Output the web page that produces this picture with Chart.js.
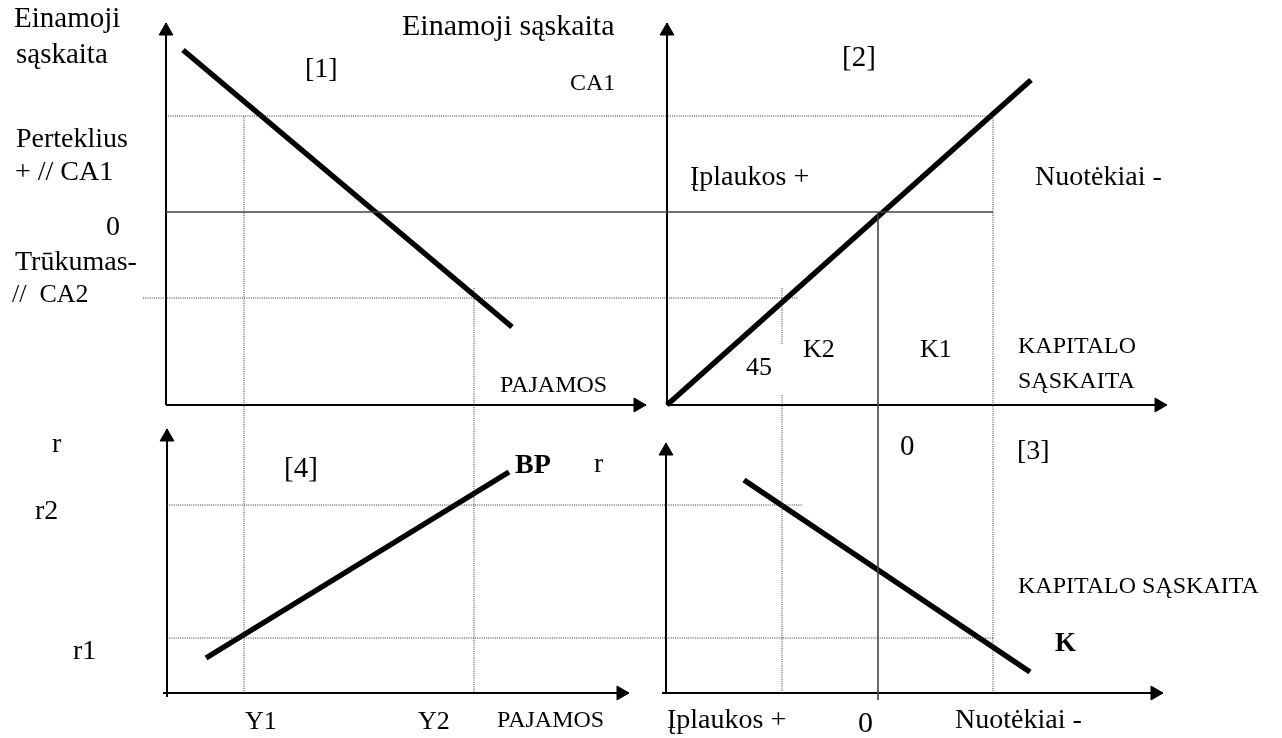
<!DOCTYPE html>
<html>
<head>
<meta charset="utf-8">
<script src="https://cdn.jsdelivr.net/npm/chart.js@4"></script>
<style>
  html, body { margin: 0; padding: 0; background: #fff; }
  #wrap { width: 1282px; height: 738px; }
</style>
</head>
<body>
<div id="wrap"><canvas id="c" width="1282" height="738"></canvas></div>
<script>
// ---- Diagram data (diagram units: x to the right, y downward) ----
// Curves
const curveCA   = [[183, 50], [512, 327]];    // panel [1] current account vs income
const curve45   = [[667, 405], [1031, 80]];   // panel [2] 45 degree line
const curveK    = [[744, 480], [1030, 672]];  // panel [3] capital account K
const curveBP   = [[206, 658], [509, 472]];   // panel [4] BP curve

// Axes (origin -> arrow tip)
const axis1Y = [[166, 405], [166, 23]];
const axis1X = [[166, 405], [646, 405]];
const axis2Y = [[667, 405], [667, 23]];
const axis2X = [[667, 405], [1167, 405]];
const axis3Y = [[666, 693], [666, 443]];
const axis3X = [[662, 693], [1163, 693]];
const axis4Y = [[167, 697], [167, 429]];
const axis4X = [[163, 693], [629, 693]];

// Reference levels
const zeroLineCA  = [[166, 212], [993, 212]];
const zeroLineK   = [[878, 212], [878, 700]];
const levelCA1    = [[166, 116], [993, 116]];
const levelCA2    = [[143, 298], [798, 298]];
const levelR2     = [[167, 505], [802, 505]];
const levelR1     = [[167, 638], [993, 638]];
const incomeY1    = [[244, 116], [244, 693]];
const incomeY2    = [[474, 288], [474, 693]];
const capK2a      = [[782, 288], [782, 345]];
const capK2b      = [[782, 395], [782, 693]];
const capK1       = [[993, 116], [993, 693]];

// Text labels
const labelTexts = [
  "Einamoji", "sąskaita", "[1]", "Einamoji sąskaita", "CA1", "[2]",
  "Perteklius", "+ // CA1", "0", "Trūkumas-", "//  CA2",
  "Įplaukos +", "Nuotėkiai -", "K2", "K1", "45", "KAPITALO", "SĄSKAITA", "PAJAMOS",
  "r", "[4]", "BP", "r", "r2", "r1", "0", "[3]", "KAPITALO SĄSKAITA", "K",
  "Y1", "Y2", "PAJAMOS", "Įplaukos +", "0", "Nuotėkiai -"
];
const labelAnchors = [
  [14, 27], [16, 63], [305, 77], [402, 35], [570, 90], [842, 66],
  [16, 147], [15, 180], [106, 235], [15, 270], [12, 302],
  [690, 185], [1035, 185], [803, 357], [920, 357], [746, 375], [1018, 353], [1018, 388], [500, 392],
  [52, 452], [284, 477], [515, 473], [594, 472], [35, 519], [73, 659], [900, 455], [1017, 459], [1018, 593], [1055, 651],
  [245, 729], [418, 729], [497, 727], [667, 728], [858, 732], [955, 728]
];
const labelStyles = [
  "29px", "29px", "28px", "30px", "24px", "29px",
  "28px", "28px", "28px", "28px", "26px",
  "28px", "28px", "26px", "26px", "26px", "24px", "24px", "24px",
  "28px", "29px", "bold 28px", "28px", "28px", "28px", "29px", "28px", "24px", "bold 27px",
  "26px", "26px", "24px", "28px", "30px", "28px"
];

// ---- Build datasets ----
const pts = a => a.map(p => ({x: p[0], y: p[1]}));
function lineDs(arr, color, width, dash) {
  return { data: pts(arr), showLine: true, borderColor: color, borderWidth: width,
           borderDash: dash || [], pointRadius: 0, borderCapStyle: 'butt', clip: false };
}
const thick = c => lineDs(c, '#000', 5.5);
const axis = a => lineDs(a, '#000', 2);
const greyLine = a => lineDs(a, '#444', 1.6);
const dotted = a => lineDs(a, '#333', 1, [1, 1.2]);

const R = 8;
function arrowHeads(axes) {
  const data = [], rot = [];
  axes.forEach(a => {
    const [o, t] = a;
    if (o[0] === t[0]) { data.push({x: t[0], y: t[1] + R}); rot.push(0); }
    else { data.push({x: t[0] - R, y: t[1]}); rot.push(90); }
  });
  return { data, showLine: false, pointStyle: 'triangle', pointRadius: R, rotation: rot,
           backgroundColor: '#000', borderColor: '#000', borderWidth: 1, clip: false };
}

const allAxes = [axis1Y, axis1X, axis2Y, axis2X, axis3Y, axis3X, axis4Y, axis4X];

const datasets = [
  ...[levelCA1, levelCA2, levelR2, levelR1, incomeY1, incomeY2, capK2a, capK2b, capK1].map(dotted),
  greyLine(zeroLineCA), greyLine(zeroLineK),
  ...allAxes.map(axis),
  arrowHeads(allAxes),
  thick(curveCA), thick(curve45), thick(curveK), thick(curveBP)
];

const labelPlugin = {
  id: 'labels',
  afterDraw(chart) {
    const ctx = chart.ctx, xs = chart.scales.x, ys = chart.scales.y;
    ctx.save();
    ctx.fillStyle = '#000';
    ctx.textBaseline = 'alphabetic';
    ctx.textAlign = 'left';
    labelTexts.forEach((t, i) => {
      ctx.font = labelStyles[i] + ' "Liberation Serif", "Times New Roman", serif';
      ctx.fillText(t, xs.getPixelForValue(labelAnchors[i][0]), ys.getPixelForValue(labelAnchors[i][1]));
    });
    ctx.restore();
  }
};

new Chart(document.getElementById('c'), {
  type: 'scatter',
  data: { datasets },
  options: {
    responsive: false,
    devicePixelRatio: 1,
    animation: false,
    layout: { padding: 0, autoPadding: false },
    plugins: { legend: { display: false }, tooltip: { enabled: false } },
    scales: {
      x: { type: 'linear', min: 0, max: 1282, display: false },
      y: { type: 'linear', min: 0, max: 738, reverse: true, display: false }
    }
  },
  plugins: [labelPlugin]
});
</script>
</body>
</html>
